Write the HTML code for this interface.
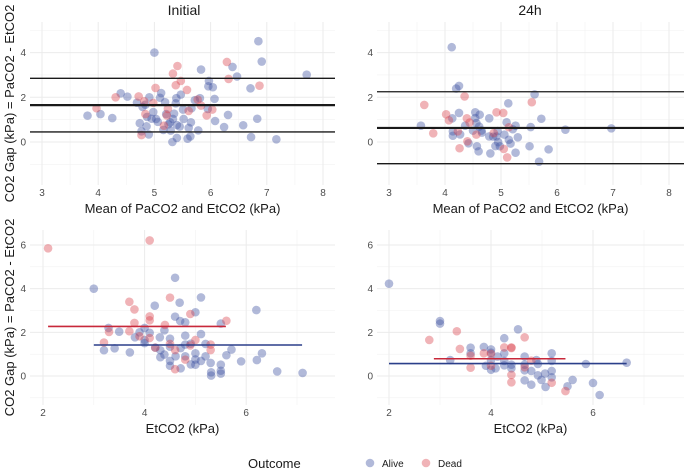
<!DOCTYPE html>
<html><head><meta charset="utf-8"><style>
body{margin:0;background:#fff;font-family:"Liberation Sans",sans-serif}
svg{display:block}
</style></head><body>
<svg id="c" width="685" height="474"></svg>
<script>
// ---- data ----
const tlAliveX=[3.81,4.04,4.25,4.40,4.52,4.69,4.74,4.77,4.79,4.84,4.86,4.90,4.91,4.87,4.95,4.98,5.0,5.03,5.06,5.10,5.12,5.16,5.19,5.21,5.25,5.28,5.29,5.32,5.33,5.35,5.38,5.39,5.40,5.40,5.45,5.47,5.51,5.52,5.59,5.61,5.64,5.65,5.66,5.72,5.78,5.81,5.83,5.95,5.97,5.96,6.04,6.07,6.08,6.24,6.31,6.39,6.47,6.58,6.71,6.72,6.83,6.85,6.91,7.17,7.71];
const tlAliveY=[1.18,1.25,1.07,2.18,2.03,1.76,0.84,0.48,1.57,1.67,0.70,0.34,2.0,1.12,1.04,1.34,4.0,1.03,0.9,1.98,2.19,0.54,1.78,1.25,0.79,0.88,0.51,0.0,1.03,1.27,1.73,1.96,0.76,0.18,0.69,2.12,1.45,1.03,0.15,0.63,0.25,0.88,1.51,1.87,0.52,1.96,3.24,1.48,2.73,2.49,2.45,1.93,0.94,0.67,1.21,3.36,2.93,0.75,2.4,0.22,1.04,4.51,3.6,0.12,3.01];
const tlDeadX=[3.97,4.31,4.72,4.77,4.82,4.84,4.98,5.02,5.17,5.22,5.24,5.33,5.38,5.41,5.47,5.58,5.61,5.77,5.83,5.93,6.03,6.29,6.32,6.87];
const tlDeadY=[1.51,2.0,2.04,0.31,1.82,1.25,1.75,2.42,0.73,1.19,1.48,3.06,2.54,3.4,2.73,2.33,1.39,1.9,1.63,1.19,1.45,3.58,2.82,2.52];
const tlLines=[2.85,1.65,0.45];
const trAliveX=[3.57,4.12,4.20,4.25,4.13,4.14,4.14,4.25,4.27,4.36,4.42,4.54,4.54,4.5,4.56,4.57,4.60,4.62,4.61,4.65,4.66,4.79,4.79,4.81,4.86,4.90,4.92,4.94,4.95,4.98,5.06,5.10,5.13,5.14,5.17,5.21,5.26,5.26,5.30,5.51,5.53,5.60,5.68,5.72,5.85,6.15,6.97];
const trAliveY=[0.73,4.24,2.39,2.51,1.06,0.48,0.28,1.3,0.34,0.73,-0.06,1.33,1.07,0.51,0.85,-0.19,-0.42,1.22,0.69,0.51,0.42,1.06,0.25,-0.51,0.24,-0.18,0.25,0.49,-0.01,-0.19,0.33,0.88,1.73,0.1,-0.07,0.57,-0.48,0.73,0.21,-0.19,0.67,2.13,-0.88,1.04,-0.33,0.55,0.61];
const trDeadX=[3.63,3.79,4.02,4.07,4.23,4.26,4.35,4.39,4.44,4.40,4.56,4.87,4.92,5.04,5.05,5.11,5.14,5.55];
const trDeadY=[1.66,0.39,1.24,0.97,0.48,-0.28,2.04,1.06,0.87,0.03,0.33,0.4,1.33,1.3,-0.31,-0.69,0.66,1.78];
const trLines=[2.25,0.63,-0.97];
const blAliveX=[3.0,3.2,3.29,3.41,3.5,3.71,3.81,3.9,4.0,4.0,4.0,4.1,4.2,4.21,4.3,4.31,4.31,4.39,4.39,4.5,4.5,4.5,4.5,4.6,4.6,4.61,4.69,4.7,4.71,4.71,4.8,4.8,4.8,4.8,4.91,4.91,5.0,5.0,5.0,5.0,5.11,5.11,5.11,5.2,5.2,5.3,5.31,5.31,5.5,5.5,5.5,5.5,5.61,5.71,5.9,6.2,6.21,6.31,6.61,7.11];
const blAliveY=[4.0,1.18,2.2,1.27,2.03,1.08,1.77,2.0,2.2,1.65,1.51,1.98,3.22,1.3,1.77,1.18,0.86,2.09,0.98,1.71,1.34,0.69,0.47,4.5,2.72,0.9,3.36,2.52,1.28,0.35,2.46,1.85,1.44,0.9,0.53,1.48,2.92,1.04,0.76,0.52,3.6,1.92,0.69,0.9,1.47,0.6,0.17,0.02,2.4,0.52,0.24,0.11,0.95,1.21,0.67,3.02,0.73,1.04,0.21,0.14];
const blDeadX=[2.1,3.2,3.3,3.7,3.7,3.8,3.8,3.9,4.1,4.1,4.1,4.1,4.21,4.4,4.5,4.5,4.6,4.6,4.9,4.9,4.8,5.0,5.3,5.3,5.61];
const blDeadY=[5.85,1.53,2.02,3.4,2.05,3.05,2.43,1.82,6.21,2.73,2.55,1.74,1.3,2.34,3.59,1.47,1.19,0.31,2.84,1.4,0.75,1.65,1.44,1.19,2.53];
const blMeanDead=[2.1,5.6,2.27];
const blMeanAlive=[3.0,7.1,1.42];
const brAliveX=[2.0,3.0,3.0,3.2,3.6,3.6,3.86,3.9,4.0,4.0,4.0,4.0,4.09,4.13,4.26,4.26,4.26,4.26,4.4,4.4,4.53,4.66,4.66,4.66,4.66,4.79,4.79,4.89,4.92,4.92,4.99,5.06,5.07,5.19,5.19,5.19,5.19,5.5,5.6,5.86,6.0,6.13,6.66];
const brAliveY=[4.23,2.52,2.4,0.73,1.3,1.04,1.33,0.47,1.22,1.07,0.73,0.29,0.35,0.89,1.73,1.04,0.69,0.49,0.52,0.35,2.14,0.89,0.52,0.26,-0.2,0.23,-0.4,0.73,0.55,0.03,-0.18,0.11,-0.5,1.04,0.69,0.23,-0.06,-0.47,-0.18,0.55,-0.32,-0.87,0.61];
const brDeadX=[2.79,3.33,3.39,3.6,3.6,3.86,4.0,4.0,4.26,4.4,4.4,4.4,4.4,4.66,4.66,4.79,5.19,5.46];
const brDeadY=[1.65,2.05,1.24,0.93,0.38,1.04,1.01,0.47,1.31,1.31,1.28,0.05,-0.29,1.77,0.4,0.7,-0.31,-0.69];
const brMeanDead=[2.88,5.46,0.79];
const brMeanAlive=[2.0,6.66,0.57];
const topXTicks=[3,4,5,6,7,8], topYTicks=[0,2,4];
const botXTicks=[2,4,6], botYTicks=[0,2,4,6];

const svg=document.getElementById('c');
const NS='http://www.w3.org/2000/svg';
function mk(tag,attrs,parent){const e=document.createElementNS(NS,tag);for(const k in attrs)e.setAttribute(k,attrs[k]);(parent||svg).appendChild(e);return e;}
function txt(s,x,y,size,fill,anchor,parent){const t=mk('text',{x:x,y:y,'font-size':size,fill:fill,'text-anchor':anchor||'middle'},parent);t.textContent=s;return t;}

function panel(name,box,xs,ys,xTicks,xMinor,yTicks,yMinor,xTitle,showY){
  const g=mk('g',{});
  
  
  xMinor.forEach(v=>mk('line',{x1:xs(v),x2:xs(v),y1:box[1],y2:box[3],stroke:'#f2f2f2','stroke-width':0.6},g));
  yMinor.forEach(v=>mk('line',{x1:box[0],x2:box[2],y1:ys(v),y2:ys(v),stroke:'#f2f2f2','stroke-width':0.6},g));
  xTicks.forEach(v=>{mk('line',{x1:xs(v),x2:xs(v),y1:box[1],y2:box[3],stroke:'#ebebeb','stroke-width':1},g);
    const t=txt(String(v),xs(v),box[3]+11,10,'#4d4d4d','middle',g);
    });
  yTicks.forEach(v=>{mk('line',{x1:box[0],x2:box[2],y1:ys(v),y2:ys(v),stroke:'#ebebeb','stroke-width':1},g);
    const t=txt(String(v),box[0]-4,ys(v)+3.5,10,'#4d4d4d','end',g);
    });
  const xt=txt(xTitle,(box[0]+box[2])/2,box[3]+28,13,'#1a1a1a','middle',g);
  
  if(showY){const cy=(box[1]+box[3])/2;const yt=mk('text',{x:0,y:0,'font-size':13,fill:'#1a1a1a','text-anchor':'middle',transform:`translate(14,${cy}) rotate(-90)`},g);yt.textContent='CO2 Gap (kPa) = PaCO2 - EtCO2';
    }
  return g;
}
function pts(g,X,Y,xs,ys,col,nm){
  X.forEach((v,i)=>{const c=mk('circle',{cx:xs(v),cy:ys(Y[i]),r:4.3,fill:col,'fill-opacity':0.4},g);
    
    });
}
function hline(g,x1,x2,y,col,w,nm){const l=mk('line',{x1:x1,x2:x2,y1:y,y2:y,stroke:col,'stroke-width':w},g);
  
  }

const BLUE='#3b4fa0', RED='#d9404a';
// top-left
{const box=[30,22,335,185];const xs=v=>42+(v-3)*56.2, ys=v=>142-v*22.35;
 const g=panel('panel-initial-bland-altman',box,xs,ys,topXTicks,[3.5,4.5,5.5,6.5,7.5],topYTicks,[-1,1,3,5],'Mean of PaCO2 and EtCO2 (kPa)',true);
 pts(g,tlAliveX,tlAliveY,xs,ys,BLUE,'point-alive');pts(g,tlDeadX,tlDeadY,xs,ys,RED,'point-dead');
 tlLines.forEach((v,i)=>hline(g,box[0],box[2],ys(v),'#1a1a1a',i==1?2.2:1.3,i==1?'mean-bias-line':'limit-of-agreement-line'));
 const t=txt('Initial',184,15,14,'#1a1a1a');}
// top-right
{const box=[377,22,684,185];const xs=v=>389+(v-3)*56, ys=v=>142-v*22.35;
 const g=panel('panel-24h-bland-altman',box,xs,ys,topXTicks,[3.5,4.5,5.5,6.5,7.5],topYTicks,[-1,1,3,5],'Mean of PaCO2 and EtCO2 (kPa)',false);
 pts(g,trAliveX,trAliveY,xs,ys,BLUE,'point-alive');pts(g,trDeadX,trDeadY,xs,ys,RED,'point-dead');
 trLines.forEach((v,i)=>hline(g,box[0],box[2],ys(v),'#1a1a1a',i==1?2.2:1.3,i==1?'mean-bias-line':'limit-of-agreement-line'));
 const t=txt('24h',530,15,14,'#1a1a1a');}
// bottom-left
{const box=[30,230,335,405];const xs=v=>43+(v-2)*50.8, ys=v=>376-v*21.83;
 const g=panel('panel-initial-etco2',box,xs,ys,botXTicks,[3,5,7],botYTicks,[-1,1,3,5],'EtCO2 (kPa)',true);
 pts(g,blAliveX,blAliveY,xs,ys,BLUE,'point-alive');pts(g,blDeadX,blDeadY,xs,ys,RED,'point-dead');
 hline(g,xs(blMeanDead[0]),xs(blMeanDead[1]),ys(blMeanDead[2]),'#c8283a',1.6,'mean-line-dead');
 hline(g,xs(blMeanAlive[0]),xs(blMeanAlive[1]),ys(blMeanAlive[2]),'#2b3f8a',1.6,'mean-line-alive');}
// bottom-right
{const box=[377,230,684,405];const xs=v=>389+(v-2)*51, ys=v=>376-v*21.83;
 const g=panel('panel-24h-etco2',box,xs,ys,botXTicks,[3,5,7],botYTicks,[-1,1,3,5],'EtCO2 (kPa)',false);
 pts(g,brAliveX,brAliveY,xs,ys,BLUE,'point-alive');pts(g,brDeadX,brDeadY,xs,ys,RED,'point-dead');
 hline(g,xs(brMeanDead[0]),xs(brMeanDead[1]),ys(brMeanDead[2]),'#c8283a',1.6,'mean-line-dead');
 hline(g,xs(brMeanAlive[0]),xs(brMeanAlive[1]),ys(brMeanAlive[2]),'#2b3f8a',1.6,'mean-line-alive');}
// legend
{const g=mk('g',{});
 
 
 const t=txt('Outcome',248,468,13,'#1a1a1a','start',g);
 const c1=mk('circle',{cx:370,cy:463,r:4.3,fill:BLUE,'fill-opacity':0.4},g);
 
 
 txt('Alive',382,467,10,'#1a1a1a','start',g);
 const c2=mk('circle',{cx:426,cy:463,r:4.3,fill:RED,'fill-opacity':0.4},g);
 
 
 txt('Dead',438,467,10,'#1a1a1a','start',g);}
</script>
</body></html>
